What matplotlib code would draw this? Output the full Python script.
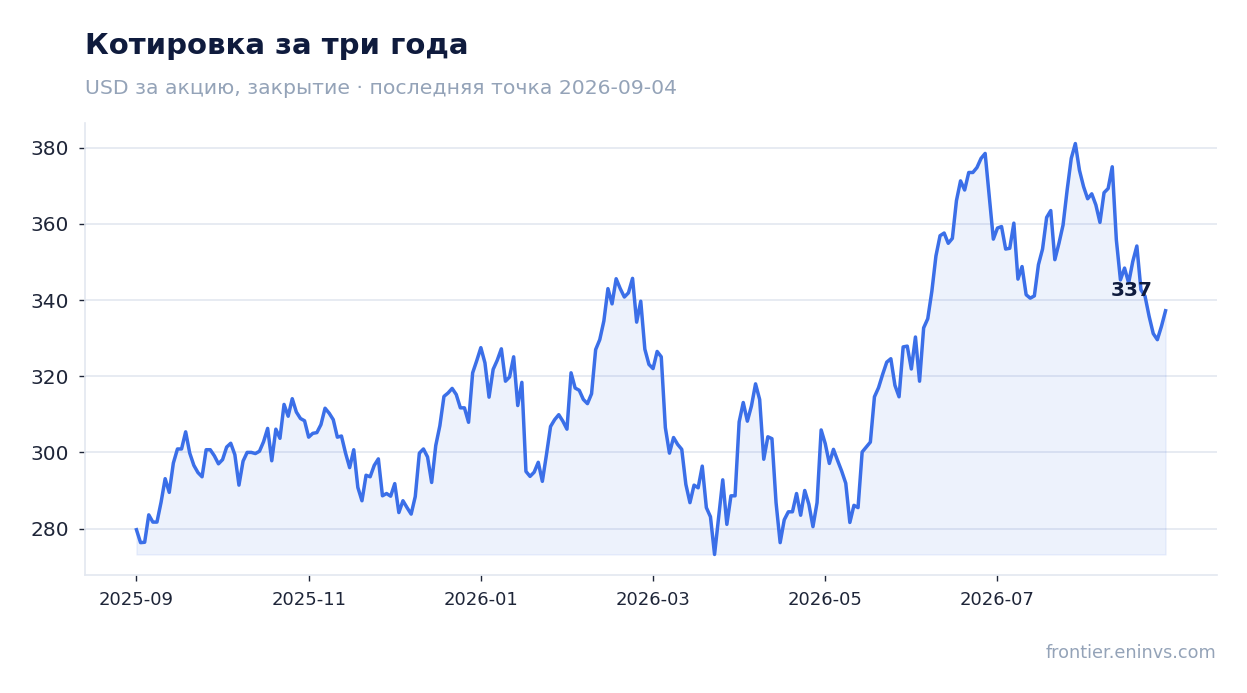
import numpy as np
import pandas as pd
import matplotlib
matplotlib.use("Agg")
import matplotlib.pyplot as plt

# closing prices, USD per share (one point per trading day)
close_part1 = [279.7, 276.3, 276.4, 283.6, 281.7, 281.7, 286.9, 293.1, 289.5, 297.2,
               300.9, 300.9, 305.4, 299.8, 296.6, 294.7, 293.6, 300.7, 300.7, 299.1,
               297.0, 298.1, 301.4, 302.4, 299.4, 291.4, 297.7, 300.0, 300.0, 299.7,
               300.3, 302.8, 306.3, 297.8, 306.1, 303.7, 312.6, 309.5, 314.1, 310.6,
               308.9, 308.3, 304.0, 305.0, 305.2, 307.3, 311.6, 310.3, 308.6, 304.0,
               304.3, 299.8, 296.0, 300.7, 290.8, 287.3, 294.0, 293.6, 296.6, 298.3,
               288.6, 289.2, 288.5, 291.8, 284.2, 287.3, 285.5, 283.8, 288.4]
close_part2 = [299.8, 300.9, 298.8, 292.1, 301.8, 307.0, 314.7, 315.6, 316.8, 315.2,
               311.7, 311.7, 307.9, 320.9, 324.1, 327.5, 323.5, 314.5, 321.8, 324.2,
               327.2, 318.7, 319.8, 325.1, 312.3, 318.4, 295.0, 293.7, 294.8, 297.4,
               292.4, 299.4, 306.8, 308.6, 309.9, 308.2, 306.1, 320.9, 316.9, 316.3,
               313.9, 312.8, 315.4, 327.0, 329.6, 334.5, 343.0, 339.0, 345.6, 343.0,
               340.8, 341.9, 345.7, 334.2, 339.7]
close_part3 = [327.1, 323.1, 322.0, 326.5, 325.1, 306.5, 299.8, 303.9, 302.1, 300.8,
               291.6, 286.8, 291.4, 290.7, 296.4, 285.5, 283.1, 273.2, 282.9, 292.8,
               281.1, 288.6, 288.6, 308.0, 313.1, 308.2, 312.2, 318.0, 313.9, 298.2,
               304.1, 303.6, 286.8, 276.3, 282.3, 284.4, 284.4, 289.2, 283.5, 290.0,
               286.4, 280.5, 286.8, 305.9, 302.3, 297.1, 300.8, 297.9, 295.1, 291.9,
               281.6, 286.1, 285.5, 300.1, 301.4, 302.7, 314.6, 317.0, 320.5, 323.7,
               324.6, 317.6, 314.6]
close_part4 = [327.7, 327.9, 321.9, 330.3, 318.7, 332.7, 335.1, 342.3, 351.6, 356.9,
               357.6, 354.9, 356.2, 366.1, 371.3, 368.9, 373.5, 373.5, 374.8, 377.2,
               378.5, 367.2, 356.0, 358.9, 359.3, 353.4, 353.6, 360.2, 345.5, 348.8,
               341.4, 340.5, 341.1, 349.3, 353.4, 361.7, 363.5, 350.6, 354.9, 359.7,
               368.9, 377.2, 381.1, 374.1, 369.8, 366.6, 367.9, 365.0, 360.4, 368.2,
               369.3, 375.0, 355.8, 345.3, 348.4, 344.5, 350.1, 354.2, 342.7, 341.0,
               335.7, 331.2, 329.6, 333.1, 337.2]
tick_labels = ['2025-09', '2025-11', '2026-01', '2026-03', '2026-05', '2026-07']
last_date = '2026-09-04'

close = np.array(close_part1 + close_part2 + close_part3 + close_part4)
dates = pd.bdate_range(end=last_date, periods=len(close))
x = np.arange(len(close))

title_c = '#0f1b3d'
muted = '#94a3b8'
line_c = '#3b6fe8'
grid_c = '#e3e8f0'

fig = plt.figure(figsize=(12.47, 6.93), dpi=100)
ax = fig.add_axes([85 / 1247, 1 - 575 / 693, (1217 - 85) / 1247, (575 - 123) / 693])

ax.fill_between(x, close, close.min(), color=line_c, alpha=0.09, lw=1)
ax.plot(x, close, color=line_c, lw=2.5, solid_joinstyle='round')

ax.annotate(f'{close[-1]:.0f}', (x[-1], close[-1]), xytext=(-9, 8),
            textcoords='offset points', ha='right', va='bottom',
            fontsize=14.5, fontweight='bold', color=title_c)

ax.set_xticks(x[::42][:len(tick_labels)])
ax.set_xticklabels(tick_labels)
ax.set_yticks([280, 300, 320, 340, 360, 380])

ax.grid(axis='y', color=grid_c, lw=1.2)
ax.set_axisbelow(True)
for side in ['top', 'right']:
    ax.spines[side].set_visible(False)
for side in ['left', 'bottom']:
    ax.spines[side].set_color(grid_c)
    ax.spines[side].set_linewidth(1.2)
ax.tick_params(axis='y', labelsize=14.5, colors='#1e2538', length=4.5, width=1, pad=7)
ax.tick_params(axis='x', labelsize=13, colors='#1e2538', length=4.5, width=1, pad=7)

fig.text(85 / 1247, 1 - 53.5 / 693, 'Котировка за три года', fontsize=21,
         fontweight='bold', color=title_c, va='baseline')
fig.text(85 / 1247, 1 - 94 / 693,
         f'USD за акцию, закрытие · последняя точка {dates[-1]:%Y-%m-%d}',
         fontsize=14.7, color=muted, va='baseline')
fig.text(1216 / 1247, 1 - 658 / 693, 'frontier.eninvs.com', fontsize=12.7,
         color=muted, ha='right', va='baseline')

fig.savefig('out.png', dpi=100)
